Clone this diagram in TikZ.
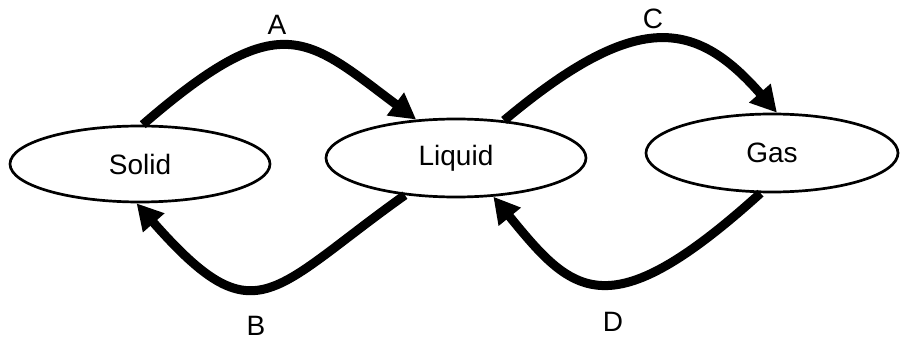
\documentclass[tikz,border=0pt]{standalone}
\usepackage{fontspec}
\setmainfont{Liberation Sans}
\usetikzlibrary{shapes.geometric,arrows.meta}
\begin{document}
\begin{tikzpicture}[x=1pt,y=-1pt,
  state/.style={draw,ellipse,line width=2.7pt,inner sep=0pt,font=\fontsize{28}{30}\selectfont},
  flow/.style={line width=9pt,-{Triangle[length=26pt,width=27pt]}},
  lbl/.style={font=\fontsize{28}{30}\selectfont,inner sep=0pt}]
\useasboundingbox (0,0) rectangle (900,342);
\node[state,minimum width=260pt,minimum height=76pt] (solid) at (140,164) {Solid};
\node[state,minimum width=260pt,minimum height=78pt] (liquid) at (456,158) {Liquid};
\node[state,minimum width=252pt,minimum height=78pt] (gas) at (772,153) {Gas};
\node[lbl] (la) at (277,25) {A};
\node[lbl] (lc) at (653,19) {C};
\node[lbl] (lb) at (256,326) {B};
\node[lbl] (ld) at (613,322) {D};
\draw[flow] (solid.86) .. controls (281,5) and (306,37) .. (liquid.136);
\draw[flow] (liquid.38) .. controls (636,10) and (695,19) .. (gas.83);
\draw[flow] (liquid.216) .. controls (270,291) and (256,339) .. (solid.265);
\draw[flow] (gas.254) .. controls (607,332) and (572,293) .. (liquid.314);
\end{tikzpicture}
\end{document}
